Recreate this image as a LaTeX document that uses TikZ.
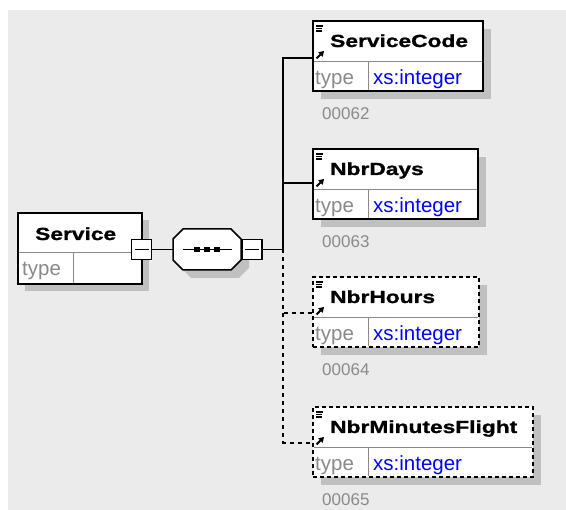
\documentclass[tikz,border=0pt]{standalone}
\usepackage{fontspec}
\setmainfont{Liberation Sans}
\newfontfamily\namefont[FakeStretch=1.3,BoldFeatures={FakeBold=1.2}]{Liberation Sans}
\usetikzlibrary{arrows.meta}
\definecolor{bggray}{HTML}{EBEBEB}
\definecolor{shadowgray}{HTML}{C0C0C0}
\definecolor{midgray}{HTML}{8A8A8A}
\definecolor{xsblue}{HTML}{0000FF}
\tikzset{
  ebox/.style={draw=black, line width=1.8pt, fill=white, anchor=north west, inner sep=0pt, outer sep=0pt},
  optbox/.style={dash pattern=on 4pt off 3pt},
  divider/.style={draw=midgray, line width=1pt},
  conn/.style={draw=black, line width=1.6pt},
  optconn/.style={dash pattern=on 4pt off 4pt},
  nametxt/.style={anchor=base west, inner sep=0pt, font=\namefont\bfseries\fontsize{17.5}{20}\selectfont},
  typetxt/.style={anchor=base west, inner sep=0pt, text=midgray, font=\fontsize{20.5}{24}\selectfont},
  xstxt/.style={anchor=base west, inner sep=0pt, text=xsblue, font=\fontsize{20.5}{24}\selectfont},
  numtxt/.style={anchor=base west, inner sep=0pt, text=midgray, font=\fontsize{17}{20}\selectfont},
  minusbox/.style={draw=black, line width=1.5pt, fill=white, minimum width=20pt, minimum height=20pt, inner sep=0pt, outer sep=0pt},
  seqbase/.style={rectangle, minimum width=68pt, minimum height=41pt, inner sep=0pt, outer sep=0pt}
}
% octagon outline around a node
\newcommand{\octpath}[1]{([xshift=10pt]#1.north west) -- ([xshift=-10pt]#1.north east) -- ([yshift=-10pt]#1.north east) -- ([yshift=10pt]#1.south east) -- ([xshift=-10pt]#1.south east) -- ([xshift=10pt]#1.south west) -- ([yshift=10pt]#1.south west) -- ([yshift=-10pt]#1.north west) -- cycle}
% #1 name, #2 x, #3 y, #4 width, #5 label, #6 extra style, #7 number
\newcommand{\elemnode}[7]{%
  \fill[shadowgray] (#2+8,#3+8) rectangle ++(#4,70);
  \node[ebox,#6,minimum width=#4pt,minimum height=70pt] (#1) at (#2,#3) {};
  \draw[divider] (#2+1,#3+41) -- (#2+#4-1,#3+41);
  \draw[divider] (#2+55,#3+41) -- (#2+55,#3+69);
  \draw[line width=1.1pt] (#2+3,#3+5) -- (#2+10,#3+5);
  \draw[line width=1.1pt] (#2+3,#3+7.5) -- (#2+9,#3+7.5);
  \draw[line width=1.1pt] (#2+3,#3+10) -- (#2+9,#3+10);
  \draw[-{Triangle[length=5pt,width=6pt]}, line width=2pt] (#2+3.5,#3+37.5) -- (#2+11,#3+30);
  \node[nametxt] (#1-t) at (#2+17,#3+26) {#5};
  \node[typetxt] (#1-ty) at (#2+2,#3+63.5) {type};
  \node[xstxt] (#1-xs) at (#2+60,#3+63.5) {xs:integer};
  \node[numtxt] (#1-n) at (#2+9,#3+99) {#7};
}
\begin{document}
\begin{tikzpicture}[x=1pt,y=-1pt]
\useasboundingbox (0,0) rectangle (566,510);
\fill[bggray] (8,10) rectangle (566,510);

% Service element
\fill[shadowgray] (25,220) rectangle ++(124,71);
\node[ebox,minimum width=124pt,minimum height=71pt] (svc) at (18,213) {};
\draw[divider] (19,253) -- (141,253);
\draw[divider] (73,253) -- (73,283);
\node[nametxt] (svc-t) at (35,240) {Service};
\node[typetxt] (svc-ty) at (22,276) {type};

% sequence compositor
\node[seqbase] (seqsh) at (215,257.5) {};
\fill[shadowgray] \octpath{seqsh};
\node[seqbase] (seq) at (207,249.5) {};
\filldraw[fill=white, draw=black, line width=1.5pt] \octpath{seq};
\draw[line width=1.5pt] ([xshift=10pt]seq.west) -- ([xshift=-9pt]seq.east);
\foreach \dx in {197,207,217} \fill (\dx-2.7,246.8) rectangle ++(5.4,5.4);

% minus boxes
\node[minusbox] (m1) at (141.5,249.5) {};
\draw[line width=1.5pt] ([xshift=3pt]m1.west) -- ([xshift=-3pt]m1.east);
\node[minusbox] (m2) at (252,249.5) {};
\draw[line width=1.5pt] ([xshift=3pt]m2.west) -- ([xshift=-3pt]m2.east);

% child elements
\elemnode{sc}{313}{21}{170}{ServiceCode}{}{00062}
\elemnode{nd}{313}{149}{165}{NbrDays}{}{00063}
\elemnode{nh}{313}{277}{166}{NbrHours}{optbox}{00064}
\elemnode{nm}{313}{407}{220}{NbrMinutesFlight}{optbox}{00065}

% connectors
\coordinate (j) at (283,249.5);
\draw[conn] (m1.east) -- (seq.west);
\draw[conn] (m2.east) -- (j);
\draw[conn] (j) |- ([yshift=-37pt]sc.north west);
\draw[conn] (j) |- ([yshift=-34pt]nd.north west);
\draw[conn,optconn] (j) |- ([yshift=-36pt]nh.north west);
\draw[conn,optconn] (j) |- ([yshift=-36pt]nm.north west);
\end{tikzpicture}
\end{document}
